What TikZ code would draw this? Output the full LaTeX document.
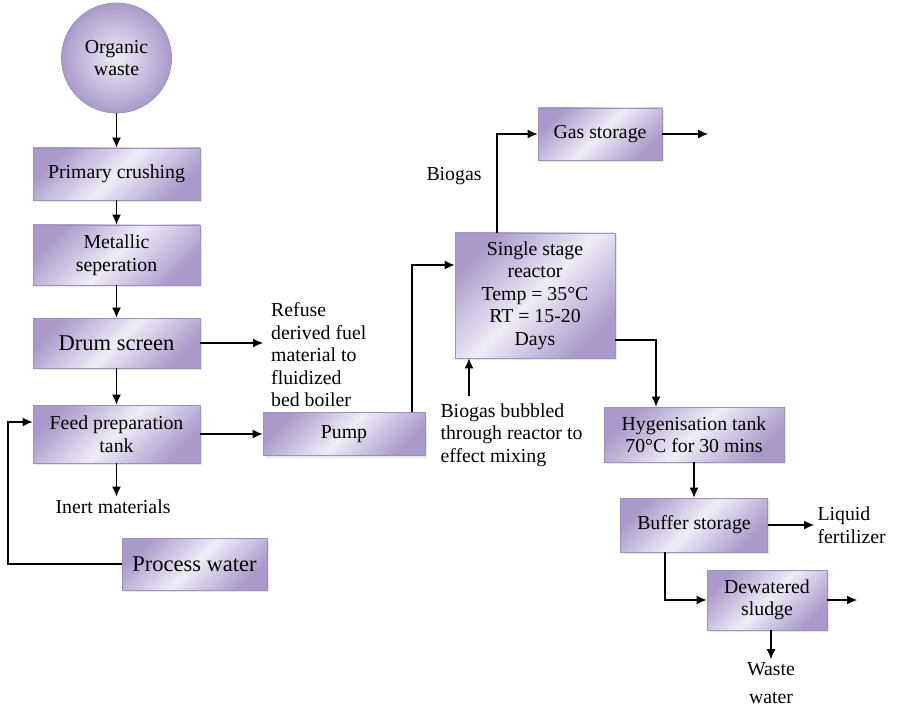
\documentclass[tikz,border=0pt]{standalone}
\usepackage{fontspec}
\setmainfont{Liberation Serif}
\usepackage{tikz}
\usetikzlibrary{positioning,arrows.meta,calc,shadows}
\definecolor{BoxLight}{RGB}{240,236,247}
\definecolor{BoxDark}{RGB}{170,154,203}
\definecolor{BoxEdge}{RGB}{158,143,190}
\tikzset{
    procbox/.style={draw=BoxEdge, line width=0.8pt, left color=BoxDark, right color=BoxDark,
        middle color=BoxLight, shading angle=45, inner sep=2pt, align=center,
        drop shadow={opacity=0.18, shadow xshift=2pt, shadow yshift=-2pt},
        font=\fontsize{19.8}{22.5}\selectfont},
    bigbox/.style={procbox, font=\fontsize{22.5}{26}\selectfont},
    plain/.style={align=center, font=\fontsize{19.8}{22.5}\selectfont},
    flow/.style={-{Latex[length=10pt,width=9pt]}, line width=1.2pt},
}

\begin{document}
\begin{tikzpicture}[x=1pt,y=-1pt]
    \useasboundingbox (0,0) rectangle (899,711);
    % left column
    \node[circle, draw=BoxEdge, line width=0.8pt, inner color=BoxLight, outer color=BoxDark,
        minimum size=110pt, inner sep=0pt, align=center, font=\fontsize{19.8}{22.5}\selectfont]
        (waste) at (116.5,58) {Organic\\waste};
    \node[procbox, minimum width=167pt, minimum height=52pt] (crush) at (116.5,174) {Primary crushing};
    \node[procbox, minimum width=167pt, minimum height=60pt] (metal) at (116.5,255) {Metallic\\seperation};
    \node[bigbox, minimum width=167pt, minimum height=50pt] (drum) at (116.5,343) {Drum screen};
    \node[procbox, minimum width=167pt, minimum height=58pt] (feed) at (116.5,434) {Feed preparation\\tank};
    \node[plain] (inert) at (113,507) {Inert materials};
    \node[bigbox, minimum width=145pt, minimum height=52pt] (pwater) at (194.5,564) {Process water};
    \node[plain, align=left, anchor=west, inner xsep=8pt] (refuse) at (263,355)
        {Refuse\\derived fuel\\material to\\fluidized\\bed boiler};
    % middle
    \node[procbox, minimum width=162pt, minimum height=43pt] (pump) at (344,434) {Pump};
    \node[procbox, minimum width=160pt, minimum height=125pt] (reactor) at (535,295.5)
        {Single stage\\reactor\\Temp = 35°C\\RT = 15-20\\Days};
    \node[procbox, minimum width=124pt, minimum height=52pt] (gas) at (600,134) {Gas storage};
    \node[plain] (biogas) at (454,176) {Biogas};
    \node[plain, align=left, anchor=west] (bubble) at (437,435)
        {Biogas bubbled\\through reactor to\\effect mixing};
    % right column
    \node[procbox, minimum width=180pt, minimum height=55pt] (hyg) at (694,434.5)
        {Hygenisation tank\\70°C for 30 mins};
    \node[procbox, minimum width=147pt, minimum height=54pt] (buffer) at (694,525) {Buffer storage};
    \node[plain, align=left, anchor=west] (liquid) at (814,525) {Liquid\\fertilizer};
    \node[procbox, minimum width=120pt, minimum height=60pt] (dewater) at (767,600) {Dewatered\\sludge};
    \node[plain] (water) at (771,683) {Waste\\[5pt]water};

    \coordinate (ret) at (8,564);
    \coordinate (gasout) at (708,134);
    \coordinate (mix) at (469,396);
    \coordinate (sludgeout) at (857,600);

    % connectors
    \draw[flow] (waste) -- (crush);
    \draw[flow] (crush) -- (metal);
    \draw[flow] (metal) -- (drum);
    \draw[flow] (drum) -- (feed);
    \draw[flow] (feed.south) -- (feed.south |- inert.north);
    \draw[flow] (drum.east) -- (drum.east -| refuse.west);
    \draw[flow] (pwater.west) -- (ret) |- ([yshift=12pt]feed.west);
    \draw[flow] (feed) -- (pump);
    \draw[flow] ([xshift=68pt]pump.north) |- ([yshift=30.5pt]reactor.west);
    \draw[flow] ([xshift=-38pt]reactor.north) |- (gas.west);
    \draw[flow] (gas.east) -- (gasout);
    \draw[flow] (mix) -- (mix |- reactor.south);
    \draw[flow] ([yshift=-44.5pt]reactor.east) -| ([xshift=-38pt]hyg.north);
    \draw[flow] (hyg) -- (buffer);
    \draw[flow] (buffer.east) -- (buffer.east -| liquid.west);
    \draw[flow] ([xshift=-29pt]buffer.south) |- (dewater.west);
    \draw[flow] (dewater.east) -- (sludgeout);
    \draw[flow] (water.north |- dewater.south) -- (water.north);
\end{tikzpicture}
\end{document}
